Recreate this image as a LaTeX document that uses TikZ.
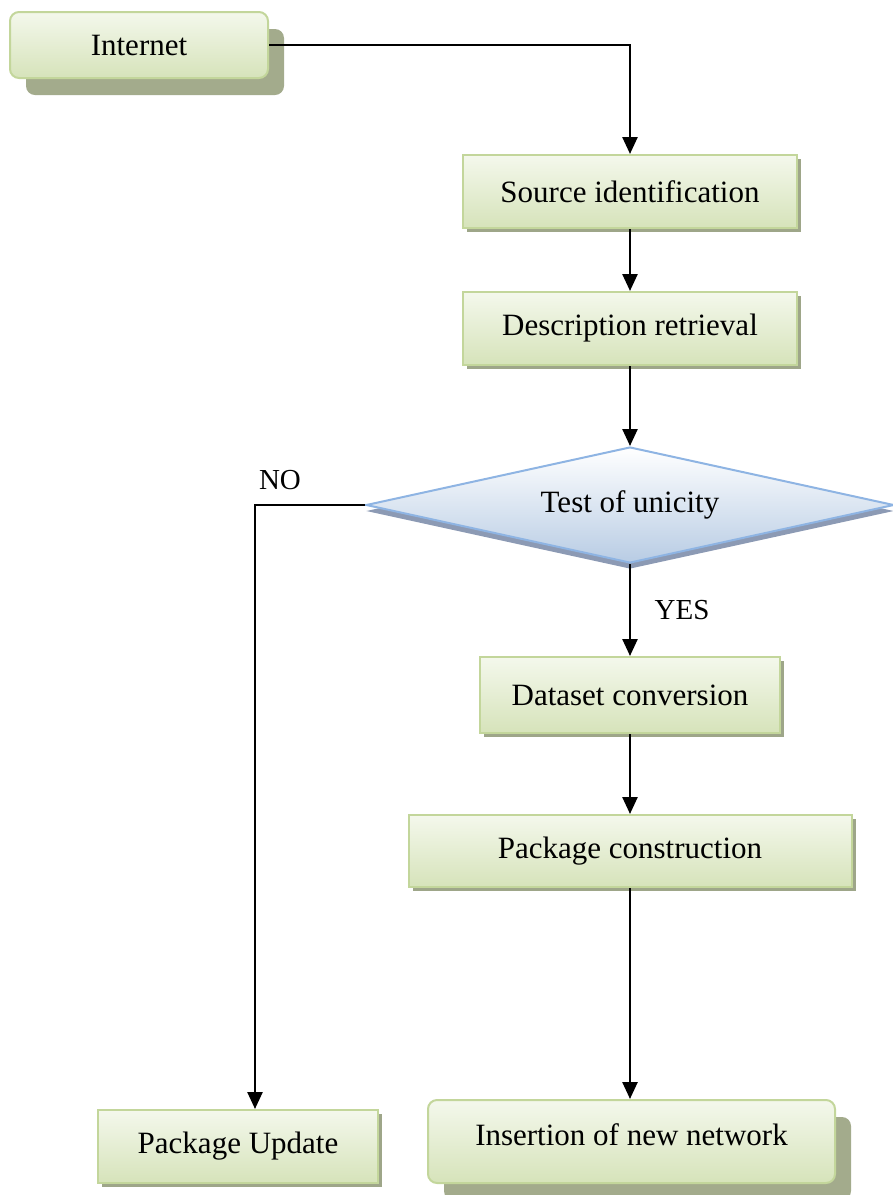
\documentclass[tikz,border=0pt]{standalone}
\usepackage{fontspec}
\setmainfont{Liberation Serif}
\usetikzlibrary{shapes.geometric,shadows,arrows.meta}

\definecolor{boxborder}{HTML}{C3D69B}
\definecolor{boxtop}{HTML}{F4F8EC}
\definecolor{boxbottom}{HTML}{D6E3BA}
\definecolor{olivedark}{HTML}{A3AB8C}
\definecolor{olivethin}{HTML}{9EA689}
\definecolor{diaborder}{HTML}{8EB4E3}
\definecolor{diatop}{HTML}{FFFFFF}
\definecolor{diabottom}{HTML}{B8CCE4}
\definecolor{diashadow}{HTML}{8C9AB4}

\tikzset{
  every node/.style={font=\fontsize{31}{35}\selectfont},
  flowbox/.style={rectangle, draw=boxborder, line width=2pt,
    top color=boxtop, bottom color=boxbottom, inner sep=0pt,
    drop shadow={shadow xshift=4pt, shadow yshift=-4pt, fill=olivethin, opacity=1}},
  roundbox/.style={rectangle, rounded corners=9pt, draw=boxborder, line width=2pt,
    top color=boxtop, bottom color=boxbottom, inner sep=0pt,
    drop shadow={shadow xshift=16pt, shadow yshift=-17pt, fill=olivedark, opacity=1}},
  decision/.style={diamond, draw=diaborder, line width=2pt,
    top color=diatop, bottom color=diabottom, inner sep=0pt, shape aspect=4.5,
    drop shadow={shadow xshift=0pt, shadow yshift=-6pt, fill=diashadow, opacity=1}},
  link/.style={draw=black, line width=2.5pt, -{Triangle[length=17pt,width=15pt]}},
  tag/.style={font=\fontsize{29}{33}\selectfont}
}

\begin{document}
\begin{tikzpicture}[x=1pt,y=-1pt]
  \useasboundingbox (0,0) rectangle (893,1195);

  % process steps
  \node[roundbox, minimum width=258pt, minimum height=66pt] (internet) at (139,45) {Internet};
  \node[flowbox, minimum width=334pt, minimum height=73pt] (source) at (630,191.5) {Source identification};
  \node[flowbox, minimum width=334pt, minimum height=73pt] (descr) at (630,328.5) {Description retrieval};
  \node[decision, minimum width=528pt, minimum height=116pt] (test) at (630,505) {Test of unicity};
  \node[flowbox, minimum width=300pt, minimum height=76pt] (dataset) at (630,695) {Dataset conversion};
  \node[flowbox, minimum width=443pt, minimum height=72pt] (pkgcons) at (630,851) {Package construction};
  \node[flowbox, minimum width=280pt, minimum height=73pt] (update) at (238,1146.5) {Package Update};
  \node[roundbox, minimum width=407pt, minimum height=83pt, text depth=14pt] (insert) at (631.5,1141.5) {Insertion of new network};

  % connectors
  \draw[link] (internet.east) -| (source.north);
  \draw[link] (source.south) -- (descr.north);
  \draw[link] (descr.south) -- (test.north);
  \draw[link] (test.south) -- (dataset.north);
  \draw[link] (dataset.south) -- (pkgcons.north);
  \draw[link] (pkgcons.south) -- (pkgcons.south |- insert.north);
  \draw[link] (test.west) -| ([xshift=17pt]update.north);

  % branch labels
  \node[tag] (yes) at (682,610) {YES};
  \node[tag] (no) at (280,480) {NO};
\end{tikzpicture}
\end{document}
